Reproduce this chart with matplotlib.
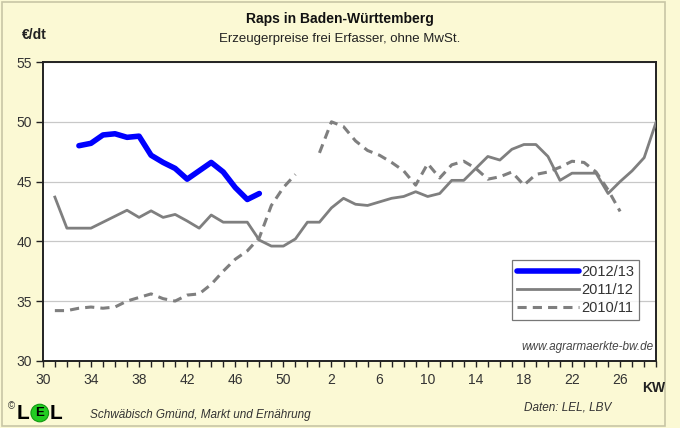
import numpy as np
import matplotlib
matplotlib.use("Agg")
import matplotlib.pyplot as plt
from matplotlib.patches import Ellipse, Rectangle

plt.rcParams['font.family'] = ['Liberation Sans', 'DejaVu Sans']

nan = np.nan

# calendar weeks on the x axis (KW 30 .. 52, then 1 .. 29)
weeks = list(range(30, 53)) + list(range(1, 30))

# prices in EUR/dt, one value per week (nan = no quote)
raps_2012 = [nan, nan, nan, 48.0, 48.2, 48.9, 49.0, 48.7, 48.8, 47.2,
             46.6, 46.1, 45.2, 45.9, 46.6, 45.8, 44.5, 43.5, 44.0] + [nan] * 33

raps_2011 = [nan, 43.7, 41.1, 41.1, 41.1, 41.6, 42.1, 42.6, 42.0, 42.55,
             42.0, 42.25, 41.7, 41.1, 42.2, 41.6, 41.6, 41.6, 40.1, 39.6,
             39.6, 40.2, 41.6, 41.6, 42.8, 43.6, 43.1, 43.0, 43.3, 43.6,
             43.75, 44.15, 43.75, 44.0, 45.1, 45.1, 46.1, 47.1, 46.8, 47.7,
             48.1, 48.1, 47.1, 45.1, 45.7, 45.7, 45.7, 44.0, 45.0, 45.9,
             47.0, 50.0]

raps_2010 = [nan, 34.2, 34.2, 34.4, 34.5, 34.4, 34.5, 35.0, 35.3, 35.6,
             35.2, 35.0, 35.5, 35.6, 36.4, 37.5, 38.5, 39.2, 40.3, 43.0,
             44.5, 45.6, nan, 47.4, 50.0, 49.6, 48.4, 47.6, 47.2, 46.6,
             45.9, 44.7, 46.5, 45.3, 46.4, 46.7, 46.1, 45.2, 45.4, 45.8,
             44.7, 45.6, 45.8, 46.2, 46.7, 46.6, 45.8, 44.3, 42.5, nan,
             nan, nan]

bg = '#fbf9d4'
fig = plt.figure(figsize=(6.8, 4.28), dpi=100, facecolor=bg)
fig.patches.append(Rectangle((0.003, 0.005), 0.975, 0.99, transform=fig.transFigure,
                             fill=False, edgecolor='#c8c6a6', lw=1.2))

ax = fig.add_axes([0.063, 0.157, 0.902, 0.698])
ax.set_facecolor('white')

x = np.arange(len(weeks))
ax.plot(x, raps_2010, color='#7f7f7f', lw=2.2, ls=(0, (3, 2)), label='2010/11', zorder=3)
ax.plot(x, raps_2011, color='#7f7f7f', lw=2.0, label='2011/12', zorder=3,
        solid_joinstyle='round')
ax.plot(x, raps_2012, color='#0000ff', lw=4.0, label='2012/13', zorder=4,
        solid_joinstyle='round', solid_capstyle='round')

ax.set_xlim(0, 51)
ax.set_ylim(30, 55)
ax.set_yticks(range(30, 56, 5))
ax.set_xticks(x[::4])
ax.set_xticklabels([str(w) for w in weeks[::4]])
ax.set_xticks(x, minor=True)
ax.tick_params(axis='x', which='both', direction='out', length=4, width=1, color='#222222')
ax.tick_params(axis='x', which='major', labelsize=10, labelcolor='#333333', pad=5)
ax.tick_params(axis='y', direction='out', length=5, width=1, color='#222222',
               labelsize=10, labelcolor='#333333', pad=3)
ax.grid(axis='y', color='#c8c8c8', lw=0.9)
ax.set_axisbelow(True)
for s in ax.spines.values():
    s.set_color('#222222')
    s.set_linewidth(1.4)

h, l = ax.get_legend_handles_labels()
leg = ax.legend(h[::-1], l[::-1], loc='lower right', bbox_to_anchor=(0.972, 0.137),
                borderaxespad=0, fontsize=10.5, frameon=True, fancybox=False,
                edgecolor='#555555', handlelength=4.3, handletextpad=0.1,
                borderpad=0.35, labelspacing=0.25)
leg.get_frame().set_linewidth(0.9)
for t in leg.get_texts():
    t.set_color('#333333')

ax.text(0.995, 0.025, 'www.agrarmaerkte-bw.de', transform=ax.transAxes, ha='right',
        va='bottom', fontsize=8.5, style='italic', color='#444444')

fig.text(0.5, 0.955, 'Raps in Baden-Württemberg', ha='center', va='center',
         fontsize=10, fontweight='bold', color='#111111')
fig.text(0.5, 0.91, 'Erzeugerpreise frei Erfasser, ohne MwSt.', ha='center', va='center',
         fontsize=9.5, color='#222222')
fig.text(0.032, 0.918, '€/dt', ha='left', va='center', fontsize=10, fontweight='bold',
         color='#222222')
fig.text(0.962, 0.093, 'KW', ha='center', va='center', fontsize=10, fontweight='bold',
         color='#222222')
fig.text(0.835, 0.047, 'Daten: LEL, LBV', ha='center', va='center', fontsize=8.5,
         style='italic', color='#333333')

# LEL logo
fig.text(0.012, 0.05, '©', ha='left', va='center', fontsize=7, color='#333333')
fig.text(0.024, 0.035, 'L', ha='left', va='center', fontsize=15, fontweight='bold', color='black')
fig.patches.append(Ellipse((0.0585, 0.035), 0.026, 0.041, transform=fig.transFigure,
                           facecolor='#22cc22', edgecolor='#119911', lw=0.8))
fig.text(0.0585, 0.035, 'E', ha='center', va='center', fontsize=9.5, fontweight='bold', color='black')
fig.text(0.073, 0.035, 'L', ha='left', va='center', fontsize=15, fontweight='bold', color='black')
fig.text(0.133, 0.03, 'Schwäbisch Gmünd, Markt und Ernährung', ha='left', va='center',
         fontsize=8.5, style='italic', color='#333333')

fig.savefig('out.png', dpi=100, facecolor=bg)
